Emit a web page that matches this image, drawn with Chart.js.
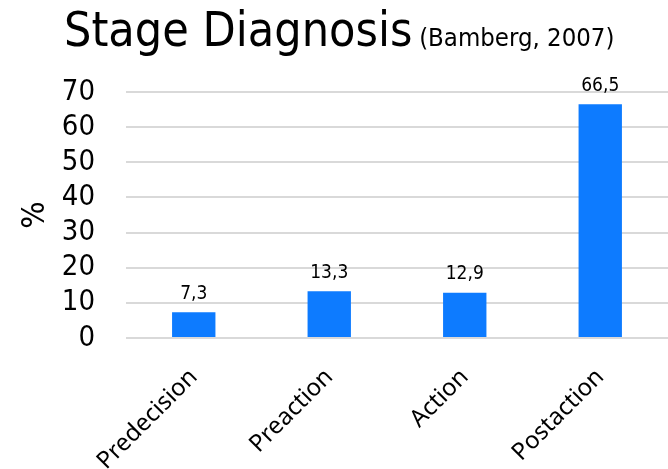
<!DOCTYPE html>
<html>
<head>
<meta charset="utf-8">
<script src="https://cdn.jsdelivr.net/npm/chart.js@4"></script>
<style>
  html, body { margin: 0; padding: 0; background: #fff; }
  #wrap { position: relative; width: 668px; height: 469px; }
  #titulo {
    position: absolute; left: 64px; top: 1px; margin: 0;
    font-family: "Liberation Sans Narrow", "DejaVu Sans Condensed", sans-serif;
    font-weight: normal; font-size: 48px; color: #000; white-space: nowrap;
  }
  #titulo span { font-size: 25.5px; margin-left: -7px; }
</style>
</head>
<body>
<div id="wrap">
  <h1 id="titulo">Stage Diagnosis <span>(Bamberg, 2007)</span></h1>
  <canvas id="grafico" width="668" height="469"></canvas>
</div>
<script>
const estagios = ["Predecision", "Preaction", "Action", "Postaction"];
const valores = [7.3, 13.3, 12.9, 66.5];
const ticksY = [0, 10, 20, 30, 40, 50, 60, 70];

const fonteNarrow = '"Liberation Sans Narrow", "DejaVu Sans Condensed", sans-serif';

// escreve o valor em cima de cada barra (virgula decimal)
const rotulosBarras = {
    id: 'rotulosBarras',
    afterDatasetsDraw(chart) {
        const ctx = chart.ctx;
        const meta = chart.getDatasetMeta(0);
        ctx.save();
        ctx.font = '19px ' + fonteNarrow;
        ctx.fillStyle = '#000';
        ctx.textAlign = 'center';
        ctx.textBaseline = 'bottom';
        meta.data.forEach((bar, i) => {
            ctx.fillText(valores[i].toFixed(1).replace('.', ','), bar.x, bar.y - 9);
        });
        ctx.restore();
    }
};

const ctx = document.getElementById('grafico').getContext('2d');

new Chart(ctx, {
    type: 'bar',
    data: {
        labels: estagios,
        datasets: [{
            data: valores,
            backgroundColor: '#0d7bff',
            barPercentage: 0.32,
            categoryPercentage: 1.0
        }]
    },
    options: {
        responsive: false,
        animation: false,
        layout: { padding: { top: 92, left: 11, right: 0, bottom: 0 } },
        plugins: {
            legend: { display: false },
            tooltip: { enabled: false }
        },
        scales: {
            x: {
                // tamanho fixo do eixo para casar com a figura
                afterFit: s => { s.paddingLeft = 0; s.paddingRight = 0; s.height = 131; },
                grid: { display: false, drawTicks: false },
                border: { display: false },
                ticks: {
                    color: '#000',
                    font: { family: '"Noto Sans", "Open Sans", sans-serif', size: 24 },
                    minRotation: 45,
                    maxRotation: 45,
                    padding: 25
                }
            },
            y: {
                min: 0,
                max: 70,
                afterBuildTicks: axis => { axis.ticks = ticksY.map(v => ({ value: v })); },
                afterFit: s => { s.width = 115; },
                grid: { color: '#d9d9d9', lineWidth: 2, drawTicks: false },
                border: { display: false },
                title: {
                    display: true,
                    text: '%',
                    color: '#000',
                    font: { family: fonteNarrow, size: 32 },
                    padding: { top: 5, bottom: 10 }
                },
                ticks: {
                    color: '#000',
                    autoSkip: false,
                    font: { family: fonteNarrow, size: 29 },
                    padding: 31
                }
            }
        }
    },
    plugins: [rotulosBarras]
});
</script>
</body>
</html>
